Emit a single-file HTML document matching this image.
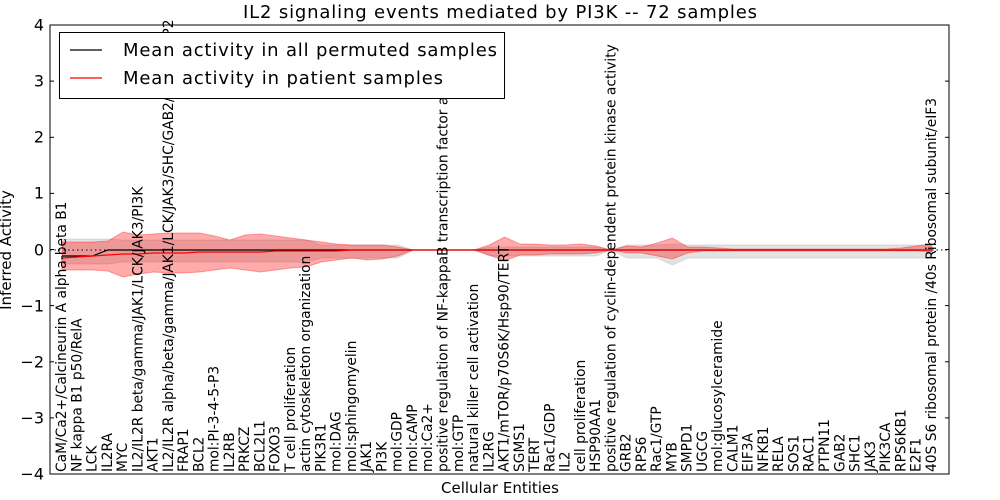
<!DOCTYPE html>
<html><head><meta charset="utf-8"><style>
body{margin:0;background:#fff;}
svg{display:block;font-family:"DejaVu Sans","Liberation Sans",sans-serif;}
</style></head><body>
<svg id="s" width="1000" height="500" viewBox="0 0 1000 500">
<rect width="1000" height="500" fill="#fff"/>
<g id="bands"></g>
<line x1="50" y1="250" x2="949" y2="250" stroke="#000" stroke-width="1" stroke-dasharray="1.5,3"/>
<polyline id="blk" fill="none" stroke="#000" stroke-width="1.2"/>
<polyline id="red" fill="none" stroke="#f00" stroke-width="1.2"/>
<g font-size="13.8" fill="#000" dominant-baseline="central">
<text transform="translate(62,472) rotate(-90)">CaM/Ca2+/Calcineurin A alpha-beta B1</text>
<text transform="translate(77.3,472) rotate(-90)">NF kappa B1 p50/RelA</text>
<text transform="translate(92.5,472) rotate(-90)">LCK</text>
<text transform="translate(107.8,472) rotate(-90)">IL2RA</text>
<text transform="translate(123,472) rotate(-90)">MYC</text>
<text transform="translate(138.3,472) rotate(-90)">IL2/IL2R beta/gamma/JAK1/LCK/JAK3/PI3K</text>
<text transform="translate(153.6,472) rotate(-90)">AKT1</text>
<text transform="translate(168.8,472) rotate(-90)">IL2/IL2R alpha/beta/gamma/JAK1/LCK/JAK3/SHC/GAB2/SOS1/SHP2</text>
<text transform="translate(184.1,472) rotate(-90)">FRAP1</text>
<text transform="translate(199.3,472) rotate(-90)">BCL2</text>
<text transform="translate(214.6,472) rotate(-90)">mol:PI-3-4-5-P3</text>
<text transform="translate(229.9,472) rotate(-90)">IL2RB</text>
<text transform="translate(245.1,472) rotate(-90)">PRKCZ</text>
<text transform="translate(260.4,472) rotate(-90)">BCL2L1</text>
<text transform="translate(275.6,472) rotate(-90)">FOXO3</text>
<text transform="translate(290.9,472) rotate(-90)">T cell proliferation</text>
<text transform="translate(306.2,472) rotate(-90)">actin cytoskeleton organization</text>
<text transform="translate(321.4,472) rotate(-90)">PIK3R1</text>
<text transform="translate(336.7,472) rotate(-90)">mol:DAG</text>
<text transform="translate(351.9,472) rotate(-90)">mol:sphingomyelin</text>
<text transform="translate(367.2,472) rotate(-90)">JAK1</text>
<text transform="translate(382.5,472) rotate(-90)">PI3K</text>
<text transform="translate(397.7,472) rotate(-90)">mol:GDP</text>
<text transform="translate(413,472) rotate(-90)">mol:cAMP</text>
<text transform="translate(428.2,472) rotate(-90)">mol:Ca2+</text>
<text transform="translate(443.5,472) rotate(-90)">positive regulation of NF-kappaB transcription factor a</text>
<text transform="translate(458.8,472) rotate(-90)">mol:GTP</text>
<text transform="translate(474,472) rotate(-90)">natural killer cell activation</text>
<text transform="translate(489.3,472) rotate(-90)">IL2RG</text>
<text transform="translate(504.5,472) rotate(-90)">AKT1/mTOR/p70S6K/Hsp90/TERT</text>
<text transform="translate(519.8,472) rotate(-90)">SGMS1</text>
<text transform="translate(535.1,472) rotate(-90)">TERT</text>
<text transform="translate(550.3,472) rotate(-90)">Rac1/GDP</text>
<text transform="translate(565.6,472) rotate(-90)">IL2</text>
<text transform="translate(580.8,472) rotate(-90)">cell proliferation</text>
<text transform="translate(596.1,472) rotate(-90)">HSP90AA1</text>
<text transform="translate(611.4,472) rotate(-90)">positive regulation of cyclin-dependent protein kinase activity</text>
<text transform="translate(626.6,472) rotate(-90)">GRB2</text>
<text transform="translate(641.9,472) rotate(-90)">RPS6</text>
<text transform="translate(657.1,472) rotate(-90)">Rac1/GTP</text>
<text transform="translate(672.4,472) rotate(-90)">MYB</text>
<text transform="translate(687.7,472) rotate(-90)">SMPD1</text>
<text transform="translate(702.9,472) rotate(-90)">UGCG</text>
<text transform="translate(718.2,472) rotate(-90)">mol:glucosylceramide</text>
<text transform="translate(733.4,472) rotate(-90)">CALM1</text>
<text transform="translate(748.7,472) rotate(-90)">EIF3A</text>
<text transform="translate(764,472) rotate(-90)">NFKB1</text>
<text transform="translate(779.2,472) rotate(-90)">RELA</text>
<text transform="translate(794.5,472) rotate(-90)">SOS1</text>
<text transform="translate(809.7,472) rotate(-90)">RAC1</text>
<text transform="translate(825,472) rotate(-90)">PTPN11</text>
<text transform="translate(840.3,472) rotate(-90)">GAB2</text>
<text transform="translate(855.5,472) rotate(-90)">SHC1</text>
<text transform="translate(870.8,472) rotate(-90)">JAK3</text>
<text transform="translate(886,472) rotate(-90)">PIK3CA</text>
<text transform="translate(901.3,472) rotate(-90)">RPS6KB1</text>
<text transform="translate(916.6,472) rotate(-90)">E2F1</text>
<text transform="translate(931.8,472) rotate(-90)">40S S6 ribosomal protein /40s Ribosomal subunit/eIF3</text>
</g>
<rect x="50" y="25" width="899" height="449" fill="none" stroke="#000" stroke-width="1"/>
<g stroke="#000" stroke-width="1">
<line x1="50" y1="25" x2="54" y2="25"/><line x1="50" y1="81.1" x2="54" y2="81.1"/><line x1="50" y1="137.3" x2="54" y2="137.3"/><line x1="50" y1="193.4" x2="54" y2="193.4"/><line x1="50" y1="249.5" x2="54" y2="249.5"/><line x1="50" y1="305.6" x2="54" y2="305.6"/><line x1="50" y1="361.8" x2="54" y2="361.8"/><line x1="50" y1="417.9" x2="54" y2="417.9"/>
<line x1="945" y1="25" x2="949" y2="25"/><line x1="945" y1="81.1" x2="949" y2="81.1"/><line x1="945" y1="137.3" x2="949" y2="137.3"/><line x1="945" y1="193.4" x2="949" y2="193.4"/><line x1="945" y1="249.5" x2="949" y2="249.5"/><line x1="945" y1="305.6" x2="949" y2="305.6"/><line x1="945" y1="361.8" x2="949" y2="361.8"/><line x1="945" y1="417.9" x2="949" y2="417.9"/>
</g>
<g font-size="16" text-anchor="end" dominant-baseline="central">
<text x="44" y="25">4</text><text x="44" y="81">3</text><text x="44" y="137">2</text><text x="44" y="193">1</text><text x="44" y="250">0</text><text x="44" y="306">−1</text><text x="44" y="362">−2</text><text x="44" y="418">−3</text><text x="44" y="474">−4</text>
</g>
<text x="500" y="18" font-size="18" text-anchor="middle" textLength="514">IL2 signaling events mediated by PI3K -- 72 samples</text>
<text x="500" y="493" font-size="15" text-anchor="middle">Cellular Entities</text>
<text transform="translate(11,250) rotate(-90)" font-size="15" text-anchor="middle">Inferred Activity</text>
<rect x="59.5" y="32.5" width="445" height="66" fill="#fff" stroke="#000"/>
<line x1="70" y1="50" x2="102" y2="50" stroke="#000" stroke-width="1.2"/>
<line x1="70" y1="78" x2="102" y2="78" stroke="#f00" stroke-width="1.2"/>
<text x="123" y="56" font-size="18" textLength="374">Mean activity in all permuted samples</text>
<text x="123" y="84" font-size="18" textLength="320">Mean activity in patient samples</text>
</svg>
<script>
var X=i=>62+15.26*i;
var ru=[8,8,8,9,18,15,16,17,17,17,14,10,15,16,14,12,10,8,6,5,5,5,3,0,0,0,0,0,5,13,6,6,5,5,6,4,0,4,3,7,12,3,3,2,1,1,1,1,1,1,1,1,1,1,1,2,4,6];
var rl=[20,20,20,21,27,24,22,23,23,22,20,18,20,22,20,18,17,12,10,8,10,9,6,0,0,0,0,0,5,11,5,5,4,4,4,3,0,3,3,6,9,3,1,1,1,1,1,1,1,1,1,1,1,1,1,1,1,2];
var gu=[],gl=[];
for(var i=0;i<58;i++){var u,l;
 if(i<=3){u=11;l=14}else if(i<=16){u=10;l=12}else if(i<=22){u=5;l=8}else if(i<=27){u=0;l=0}else if(i<=35){u=3;l=6}else if(i==36){u=0;l=0}else{u=5;l=8}
 if(i==40){u=6;l=15}gu.push(u);gl.push(l);}
function poly(up,lo,fill,op){var p=[];for(var i=0;i<58;i++)p.push(X(i)+","+(250-up[i]));for(var i=57;i>=0;i--)p.push(X(i)+","+(250+lo[i]));
 var e=document.createElementNS("http://www.w3.org/2000/svg","polygon");e.setAttribute("points",p.join(" "));e.setAttribute("fill",fill);e.setAttribute("fill-opacity",op);e.setAttribute("stroke",fill);e.setAttribute("stroke-opacity",op);document.getElementById("bands").appendChild(e);}
poly(gu,gl,"#909090",0.25);
poly(ru,rl,"#ff0000",0.33);
var b=[],r=[];var rm=[8,7,6,5,4,4,3,3,3,2,2,2,2,2,1,1,1,1,1,0];
for(var i=0;i<58;i++){b.push(X(i)+","+(250+(i<3?6:0)));r.push(X(i)+","+(250+(i<rm.length?rm[i]:0)));}
document.getElementById("blk").setAttribute("points",b.join(" "));
document.getElementById("red").setAttribute("points",r.join(" "));
</script>
</body></html>
